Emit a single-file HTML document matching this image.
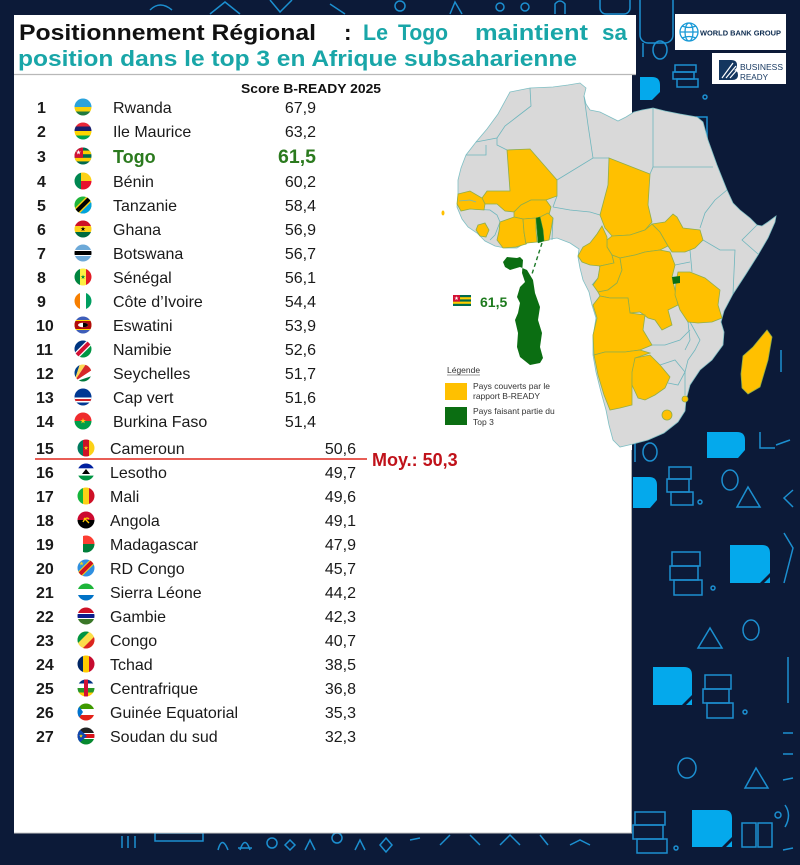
<!DOCTYPE html>
<html><head><meta charset="utf-8"><style>
html,body{margin:0;padding:0;background:#0c1a38;}
svg{display:block;}
text{font-family:"Liberation Sans",sans-serif;}
</style></head><body>
<svg width="800" height="865" viewBox="0 0 800 865" xmlns="http://www.w3.org/2000/svg">
<defs>
<clipPath id="fc" clipPathUnits="userSpaceOnUse"><circle cx="0" cy="0" r="8.5"/></clipPath>
<path id="st" d="M0,-1 L0.2245,-0.309 L0.951,-0.309 L0.363,0.118 L0.588,0.809 L0,0.382 L-0.588,0.809 L-0.363,0.118 L-0.951,-0.309 L-0.2245,-0.309Z"/>
</defs>
<rect width="800" height="865" fill="#0c1a38"/>
<g fill="none" stroke="#1c8fd0" stroke-width="1.5">
<path d="M150,10 Q160,0 172,10"/><path d="M210,14 L225,2 L240,14"/><path d="M270,0 L280,12 L292,0"/><path d="M330,4 L345,14"/><circle cx="400" cy="6" r="5"/><path d="M450,14 L455,2 L462,14"/><circle cx="500" cy="7" r="4"/><circle cx="525" cy="7" r="4"/><path d="M555,14 V4 Q560,-2 565,4 V14"/><rect x="600" y="-6" width="30" height="20" rx="6"/>
<rect x="640" y="-10" width="33" height="53" rx="8"/><line x1="643" y1="43" x2="643" y2="57"/><ellipse cx="660" cy="50" rx="7" ry="9"/>
<rect x="675" y="65" width="21" height="7"/><rect x="673" y="72" width="21" height="7"/><rect x="677" y="79" width="21" height="8"/><circle cx="705" cy="97" r="2"/>
<rect x="697" y="117" width="10" height="33"/>
<line x1="781" y1="350" x2="781" y2="372"/>
<rect x="669" y="467" width="22" height="12"/><rect x="667" y="479" width="22" height="13"/><rect x="671" y="492" width="22" height="13"/><circle cx="700" cy="502" r="2"/>
<ellipse cx="650" cy="452" rx="7" ry="9"/><line x1="635" y1="443" x2="635" y2="462"/>
<ellipse cx="730" cy="480" rx="8" ry="10"/>
<polygon points="748,487 737,507 760,507"/>
<path d="M760,432 V448 H775 M776,445 L790,440"/>
<path d="M793,490 L784,498 L793,507"/>
<rect x="672" y="552" width="28" height="14"/><rect x="670" y="566" width="28" height="14"/><rect x="674" y="580" width="28" height="15"/><circle cx="713" cy="588" r="2"/>
<path d="M784,533 L793,548 L784,583"/>
<polygon points="710,628 698,648 722,648"/><ellipse cx="751" cy="630" rx="8" ry="10"/>
<rect x="705" y="675" width="26" height="14"/><rect x="703" y="689" width="26" height="14"/><rect x="707" y="703" width="26" height="15"/><circle cx="745" cy="712" r="2"/>
<line x1="788" y1="657" x2="788" y2="703"/><line x1="783" y1="733" x2="793" y2="733"/><line x1="783" y1="754" x2="793" y2="754"/><line x1="783" y1="780" x2="793" y2="778"/>
<ellipse cx="687" cy="768" rx="9" ry="10"/><polygon points="756,768 745,788 768,788"/>
<rect x="635" y="812" width="30" height="13"/><rect x="633" y="825" width="30" height="14"/><rect x="637" y="839" width="30" height="14"/><circle cx="676" cy="848" r="2"/>
<rect x="742" y="823" width="14" height="24"/><rect x="758" y="823" width="14" height="24"/><circle cx="778" cy="815" r="3"/><path d="M785,805 Q792,815 785,827"/><line x1="783" y1="850" x2="793" y2="848"/>
<path d="M122,848 V836 M128,848 V836 M135,848 V836"/><rect x="155" y="833" width="48" height="8"/><path d="M218,850 Q222,835 228,850"/><path d="M240,850 Q245,835 250,850 M238,848 H252"/><circle cx="272" cy="843" r="5"/><path d="M290,840 L295,845 L290,850 L285,845Z"/><path d="M305,850 L310,840 L315,850"/><circle cx="337" cy="838" r="5"/><path d="M355,850 L360,840 L365,850"/><path d="M380,845 L386,838 L392,845 L386,852Z"/>
<path d="M410,840 L420,838 M440,845 L450,835 M470,835 L480,845 M500,845 L510,835 L520,845 M540,835 L548,845 M570,845 L580,840 L590,845"/>
</g>
<g fill="#04a9ec">
<path d="M640,77 H652 Q660,77 660,85 V92 L652,100 H640 Z"/>
<path d="M707,432 H737 Q745,432 745,440 V450 L738,458 H707 Z"/>
<path d="M633,477 H649 Q657,477 657,485 V500 L650,508 H633 Z"/>
<path d="M730,545 H762 Q770,545 770,553 V573 L760,583 H730 Z"/><path d="M764,583 L770,577 V583Z"/>
<path d="M653,667 H684 Q692,667 692,675 V695 L682,705 H653 Z"/><path d="M686,705 L692,699 V705Z"/>
<path d="M692,810 H724 Q732,810 732,818 V837 L722,847 H692 Z"/><path d="M726,847 L732,841 V847Z"/>
</g>
<rect x="675" y="14" width="111" height="36" fill="#fff"/>
<g fill="none" stroke="#1a9ad6" stroke-width="1.3"><circle cx="689" cy="32" r="9"/><ellipse cx="689" cy="32" rx="4" ry="9"/><line x1="680" y1="32" x2="698" y2="32"/><path d="M682,26 Q689,29 696,26 M682,38 Q689,35 696,38"/></g>
<text x="700" y="35.5" font-size="7.6" font-weight="bold" fill="#0b2a4e" textLength="81" lengthAdjust="spacingAndGlyphs">WORLD BANK GROUP</text>
<rect x="712" y="53" width="74" height="31" fill="#fff"/>
<path d="M719,60 H731 Q737,60 737,65 Q737,69 734,70 Q738,71 738,75 Q738,80 732,80 H719 Z" fill="#14365f"/>
<path d="M722,78 L733,63 M726,78 L736,66 M730,78 L737,70" stroke="#fff" stroke-width="1.2"/>
<text x="740" y="70" font-size="8" fill="#14365f" textLength="43" lengthAdjust="spacingAndGlyphs">BUSINESS</text>
<text x="740" y="80" font-size="8" fill="#14365f" textLength="28" lengthAdjust="spacingAndGlyphs">READY</text>
<rect x="14" y="15" width="622" height="59" fill="#fff"/>
<rect x="14" y="74" width="618" height="759" fill="#fff"/>
<line x1="14" y1="74.5" x2="636" y2="74.5" stroke="#b8b8b8" stroke-width="1.2"/>
<line x1="631.5" y1="450" x2="631.5" y2="833" stroke="#b0b0b0" stroke-width="1"/>
<line x1="14" y1="833" x2="632" y2="833" stroke="#c8c8c8" stroke-width="1"/>
<g font-size="22.5" font-weight="bold">
<text x="19" y="40" fill="#111" textLength="297" lengthAdjust="spacingAndGlyphs">Positionnement Régional</text>
<text x="344" y="40" fill="#111">:</text>
<g fill="#19a6a8">
<text x="363" y="40" textLength="25" lengthAdjust="spacingAndGlyphs">Le</text>
<text x="398" y="40" textLength="50" lengthAdjust="spacingAndGlyphs">Togo</text>
<text x="475" y="40" textLength="113" lengthAdjust="spacingAndGlyphs">maintient</text>
<text x="602" y="40" textLength="25" lengthAdjust="spacingAndGlyphs">sa</text>
<text x="18" y="66" textLength="559" lengthAdjust="spacingAndGlyphs">position dans le top 3 en Afrique subsaharienne</text>
</g>
</g>
<text x="241" y="93" font-size="13" font-weight="bold" fill="#111" textLength="140" lengthAdjust="spacingAndGlyphs">Score B-READY 2025</text>

<!-- Map -->
<path d="M510,92 L530,88 L553,87 L568,85 L580,83 L586,88 L584,96 L586,104 L590,110 L600,112 L608,116 L618,121 L626,117 L634,112 L642,110 L653,108 L665,111 L680,114 L697,117 L703,122 L708,140 L717,165 L727,190 L733,203 L740,210 L750,218 L757,225 L762,226 L768,222 L776,216 L775,222 L768,238 L758,255 L746,274 L733,294 L724,311 L721,322 L724,332 L723,345 L712,360 L700,370 L690,385 L686,400 L685,411 L678,422 L664,433 L648,440 L633,444 L620,447 L613,440 L609,425 L606,410 L601,392 L596,372 L593,355 L593,337 L596,318 L592,305 L589,292 L583,280 L580,268 L578,257 L579,249 L570,243 L557,238 L545,240 L535,242 L525,243 L517,248 L505,248 L495,246 L485,241 L477,233 L468,227 L462,219 L457,207 L458,195 L458,180 L461,168 L466,155 L476,142 L487,129 L498,114 Z" fill="#d9d9d9" stroke="#7fbfc4" stroke-width="0.8"/>
<g fill="none" stroke="#6fb6bd" stroke-width="0.8">
<path d="M530,88 L531,106 L518,116 L505,126 L497,138"/>
<path d="M476,142 L497,138 L497,145 L507,150"/><path d="M466,155 L486,155 L486,145"/>
<path d="M584,96 L588,125 L593,158"/><path d="M557,180 L593,158 L609,158"/>
<path d="M653,108 L653,167 L650,174"/><path d="M653,167 L713,167"/>
<path d="M727,190 L715,200 L705,213 L700,228"/><path d="M757,225 L742,240 L758,254"/><path d="M703,240 L720,250 L735,250 L733,294"/><path d="M690,250 L692,272"/><path d="M675,265 L690,262"/>
<path d="M553,207 L570,210 L590,212 L600,215"/><path d="M553,218 L552,240"/><path d="M557,196 L553,207"/>
<path d="M470,209 L490,210 L497,215 L500,222 L495,235 L490,240"/>
<path d="M583,262 L598,262 L600,268 L598,278 L592,285"/>
<path d="M652,345 L665,345 L680,340 L690,330"/><path d="M660,365 L675,360 L685,372 L678,385 L668,383"/><path d="M690,322 L700,340 L695,350 L688,360 L685,372 L685,395"/><path d="M688,322 L690,340 L685,350"/>
</g>
<g stroke="#8fae4a" stroke-width="0.8" fill="#ffc000">
<polygon points="507,150 530,149 557,180 557,196 546,200 531,200 521,205 514,212 505,211 497,204 485,204 482,198 487,191 510,191"/>
<polygon points="458,194 470,191 482,198 485,204 484,210 470,209 461,211 457,204"/>
<polygon points="514,212 521,205 531,200 546,200 551,207 549,215 536,218 523,219 514,217"/>
<polygon points="500,222 514,217 523,219 524,232 526,244 516,247 503,248 497,240 499,231"/>
<polygon points="523,219 536,218 536,230 537,242 527,243 526,244 524,232"/>
<polygon points="540,217 548,213 553,218 551,230 549,240 544,241 543,230"/>
<polygon points="478,225 485,223 489,230 486,237 480,236 476,230"/>
<polygon points="609,158 650,174 648,205 652,222 645,230 630,235 612,236 605,228 600,215 604,200 608,185"/>
<polygon points="612,236 630,235 645,230 652,224 660,232 668,246 660,250 645,252 635,255 620,258 612,255 607,247 607,240"/>
<polygon points="652,224 665,222 673,214 677,217 683,228 700,230 703,240 695,248 685,252 672,252 668,246 660,232"/>
<polygon points="602,226 607,237 607,247 612,255 614,263 600,266 590,265 582,262 578,256 583,247 590,243 597,234"/>
<polygon points="612,255 620,258 622,270 617,283 608,290 598,292 593,285 598,278 600,266 614,263"/>
<polygon points="620,258 635,255 645,252 660,250 670,252 675,265 672,277 675,290 678,305 668,310 672,325 662,330 655,320 648,318 640,312 630,313 628,298 610,298 600,296 598,292 608,290 617,283 622,270"/>
<polygon points="600,296 610,298 628,298 630,313 645,315 643,330 652,345 640,350 625,352 605,352 594,355 593,335 597,318 593,305"/>
<polygon points="594,355 605,352 625,352 640,350 650,353 635,358 632,380 632,405 620,408 610,410 604,395 598,375"/>
<polygon points="635,358 650,355 660,365 670,377 665,388 655,395 645,400 638,398 632,385 632,372"/>
<polygon points="678,272 690,272 705,278 720,290 718,305 722,318 712,322 698,323 688,322 680,310 675,295 676,282"/>
<circle cx="667" cy="415" r="5"/><circle cx="685" cy="399" r="3"/>
<path d="M767,330 L772,337 L768,360 L760,387 L748,394 L742,388 L741,374 L743,356 L753,347 L762,336 Z"/>
</g>
<ellipse cx="443" cy="213" rx="1.5" ry="2.5" fill="#ffc000"/>
<polyline points="459,201 470,200 476,202" fill="none" stroke="#6fb6bd" stroke-width="0.8"/>
<polygon points="536,218 540,217 543,230 544,241 538,243 537,230" fill="#0b6e12" stroke="#2e8a2e" stroke-width="0.5"/>
<polygon points="672,277 680,276 680,283 673,284" fill="#0b6e12"/>
<line x1="542" y1="243" x2="532" y2="274" stroke="#1c7a28" stroke-width="1.4" stroke-dasharray="4,3"/>
<path d="M503,262 L507,257 L517,258 L520,257 L523,260 L522,273 L525,282 L520,287 L517,297 L520,303 L518,313 L515,320 L518,333 L517,347 L520,357 L530,365 L540,363 L543,358 L540,347 L542,333 L538,320 L540,307 L535,293 L533,280 L527,270 L520,267 L510,270 L505,267 Z" fill="#0b6e12"/>
<g transform="translate(453,295)">
<rect width="18" height="11" fill="#006a4e"/><rect y="2.2" width="18" height="2.2" fill="#ffce00"/><rect y="6.6" width="18" height="2.2" fill="#ffce00"/><rect width="7" height="6.6" fill="#d21034"/><use href="#st" transform="translate(3.5,3.3) scale(2.2)" fill="#fff"/>
</g>
<text x="480" y="307" font-size="14" font-weight="bold" fill="#1d7a1d">61,5</text>
<text x="447" y="373" font-size="8.5" fill="#333">Légende</text>
<line x1="447" y1="375" x2="480" y2="375" stroke="#333" stroke-width="0.6"/>
<rect x="445" y="383" width="22" height="17" fill="#ffc000"/>
<text x="473" y="389" font-size="8.5" fill="#333">Pays couverts par le</text>
<text x="473" y="399" font-size="8.5" fill="#333">rapport B-READY</text>
<rect x="445" y="407" width="22" height="18" fill="#0b6e12"/>
<text x="473" y="414" font-size="8.5" fill="#333">Pays faisant partie du</text>
<text x="473" y="425" font-size="8.5" fill="#333">Top 3</text>

<!-- List -->
<g font-size="16" fill="#1a1a1a">
<g font-weight="bold">
<text x="37" y="113">1</text><text x="37" y="137">2</text><text x="37" y="162">3</text><text x="37" y="187">4</text><text x="37" y="211">5</text><text x="37" y="235">6</text><text x="37" y="259">7</text><text x="37" y="283">8</text><text x="37" y="307">9</text><text x="36" y="331">10</text><text x="36" y="355">11</text><text x="36" y="379">12</text><text x="36" y="403">13</text><text x="36" y="427">14</text>
<text x="36" y="454">15</text><text x="36" y="478">16</text><text x="36" y="502">17</text><text x="36" y="526">18</text><text x="36" y="550">19</text><text x="36" y="574">20</text><text x="36" y="598">21</text><text x="36" y="622">22</text><text x="36" y="646">23</text><text x="36" y="670">24</text><text x="36" y="694">25</text><text x="36" y="718">26</text><text x="36" y="742">27</text>
</g>
<text x="113" y="113">Rwanda</text><text x="113" y="137">Ile Maurice</text>
<text x="113" y="187">Bénin</text><text x="113" y="211">Tanzanie</text><text x="113" y="235">Ghana</text><text x="113" y="259">Botswana</text><text x="113" y="283">Sénégal</text><text x="113" y="307">Côte d’Ivoire</text><text x="113" y="331">Eswatini</text><text x="113" y="355">Namibie</text><text x="113" y="379">Seychelles</text><text x="113" y="403">Cap vert</text><text x="113" y="427">Burkina Faso</text>
<text x="110" y="454">Cameroun</text><text x="110" y="478">Lesotho</text><text x="110" y="502">Mali</text><text x="110" y="526">Angola</text><text x="110" y="550">Madagascar</text><text x="110" y="574">RD Congo</text><text x="110" y="598">Sierra Léone</text><text x="110" y="622">Gambie</text><text x="110" y="646">Congo</text><text x="110" y="670">Tchad</text><text x="110" y="694">Centrafrique</text><text x="110" y="718">Guinée Equatorial</text><text x="110" y="742">Soudan du sud</text>
<g text-anchor="end">
<text x="316" y="113">67,9</text><text x="316" y="137">63,2</text><text x="316" y="187">60,2</text><text x="316" y="211">58,4</text><text x="316" y="235">56,9</text><text x="316" y="259">56,7</text><text x="316" y="283">56,1</text><text x="316" y="307">54,4</text><text x="316" y="331">53,9</text><text x="316" y="355">52,6</text><text x="316" y="379">51,7</text><text x="316" y="403">51,6</text><text x="316" y="427">51,4</text>
<text x="356" y="454">50,6</text><text x="356" y="478">49,7</text><text x="356" y="502">49,6</text><text x="356" y="526">49,1</text><text x="356" y="550">47,9</text><text x="356" y="574">45,7</text><text x="356" y="598">44,2</text><text x="356" y="622">42,3</text><text x="356" y="646">40,7</text><text x="356" y="670">38,5</text><text x="356" y="694">36,8</text><text x="356" y="718">35,3</text><text x="356" y="742">32,3</text>
</g>
</g>
<text x="113" y="163" font-size="18" font-weight="bold" fill="#2b7a1e">Togo</text>
<text x="316" y="163" font-size="19.5" font-weight="bold" fill="#2b7a1e" text-anchor="end">61,5</text>
<line x1="35" y1="459" x2="367" y2="459" stroke="#e0281e" stroke-width="1.6"/>
<text x="372" y="466" font-size="18" font-weight="bold" fill="#c0121a">Moy.: 50,3</text>

<!-- Flags -->
<g transform="translate(83,107)"><g clip-path="url(#fc)"><rect x="-9" y="-9" width="18" height="9" fill="#2aa3dc"/><rect x="-9" y="0" width="18" height="4.5" fill="#f5d10a"/><rect x="-9" y="4.5" width="18" height="4.5" fill="#1f7a3f"/></g></g>
<g transform="translate(83,131)"><g clip-path="url(#fc)"><rect x="-9" y="-9" width="18" height="4.5" fill="#ea2839"/><rect x="-9" y="-4.5" width="18" height="4.5" fill="#1a206d"/><rect x="-9" y="0" width="18" height="4.5" fill="#ffd500"/><rect x="-9" y="4.5" width="18" height="4.5" fill="#00a551"/></g></g>
<g transform="translate(83,156)"><g clip-path="url(#fc)"><rect x="-9" y="-9" width="18" height="18" fill="#006a4e"/><rect x="-9" y="-5.4" width="18" height="3.6" fill="#ffce00"/><rect x="-9" y="1.8" width="18" height="3.6" fill="#ffce00"/><rect x="-9" y="-9" width="9" height="10.8" fill="#d21034"/><use href="#st" transform="translate(-4.5,-3.6) scale(2.6)" fill="#fff"/></g></g>
<g transform="translate(83,181)"><g clip-path="url(#fc)"><rect x="-9" y="-9" width="7" height="18" fill="#008751"/><rect x="-2" y="-9" width="11" height="9" fill="#fcd116"/><rect x="-2" y="0" width="11" height="9" fill="#e8112d"/></g></g>
<g transform="translate(83,205)"><g clip-path="url(#fc)"><rect x="-9" y="-9" width="18" height="18" fill="#1eb53a"/><polygon points="9,-9 9,9 -9,9" fill="#00a3dd"/><line x1="-10" y1="10" x2="10" y2="-10" stroke="#fcd116" stroke-width="7"/><line x1="-10" y1="10" x2="10" y2="-10" stroke="#000" stroke-width="4.2"/></g></g>
<g transform="translate(83,229)"><g clip-path="url(#fc)"><rect x="-9" y="-9" width="18" height="6" fill="#ce1126"/><rect x="-9" y="-3" width="18" height="6" fill="#fcd116"/><rect x="-9" y="3" width="18" height="6" fill="#006b3f"/><use href="#st" transform="scale(2.6)" fill="#000"/></g></g>
<g transform="translate(83,253)"><g clip-path="url(#fc)"><rect x="-9" y="-9" width="18" height="18" fill="#6da9d8"/><rect x="-9" y="-3" width="18" height="6" fill="#fff"/><rect x="-9" y="-2" width="18" height="4" fill="#000"/></g></g>
<g transform="translate(83,277)"><g clip-path="url(#fc)"><rect x="-9" y="-9" width="6" height="18" fill="#00853f"/><rect x="-3" y="-9" width="6" height="18" fill="#fdef42"/><rect x="3" y="-9" width="6" height="18" fill="#e31b23"/><use href="#st" transform="scale(2.4)" fill="#00853f"/></g></g>
<g transform="translate(83,301)"><g clip-path="url(#fc)"><rect x="-9" y="-9" width="6" height="18" fill="#f77f00"/><rect x="-3" y="-9" width="6" height="18" fill="#fff"/><rect x="3" y="-9" width="6" height="18" fill="#009e60"/></g></g>
<g transform="translate(83,325)"><g clip-path="url(#fc)"><rect x="-9" y="-9" width="18" height="18" fill="#3e5eb9"/><rect x="-9" y="-5" width="18" height="10" fill="#ffd900"/><rect x="-9" y="-4" width="18" height="8" fill="#b10c0c"/><ellipse cx="0" cy="0" rx="5" ry="2.3" fill="#fff"/><path d="M0,-2.3 A5,2.3 0 0 1 0,2.3 Z" fill="#000"/></g></g>
<g transform="translate(83,349)"><g clip-path="url(#fc)"><polygon points="-9,-9 9,-9 -9,9" fill="#003580"/><polygon points="9,-9 9,9 -9,9" fill="#009543"/><line x1="-10" y1="10" x2="10" y2="-10" stroke="#fff" stroke-width="6.5"/><line x1="-10" y1="10" x2="10" y2="-10" stroke="#d21034" stroke-width="4"/></g></g>
<g transform="translate(83,373)"><g clip-path="url(#fc)"><polygon points="-9,9 -9,-9 -3,-9" fill="#003f87"/><polygon points="-9,9 -3,-9 3,-9" fill="#fcd856"/><polygon points="-9,9 3,-9 9,-9 9,-3" fill="#d62828"/><polygon points="-9,9 9,-3 9,3" fill="#fff"/><polygon points="-9,9 9,3 9,9" fill="#007a3d"/></g></g>
<g transform="translate(83,397)"><g clip-path="url(#fc)"><rect x="-9" y="-9" width="18" height="18" fill="#003893"/><rect x="-9" y="0.5" width="18" height="5" fill="#fff"/><rect x="-9" y="2" width="18" height="2" fill="#cf2027"/></g></g>
<g transform="translate(83,421)"><g clip-path="url(#fc)"><rect x="-9" y="-9" width="18" height="9" fill="#ef2b2d"/><rect x="-9" y="0" width="18" height="9" fill="#009e49"/><use href="#st" transform="scale(3)" fill="#fcd116"/></g></g>
<g transform="translate(86,448)"><g clip-path="url(#fc)"><rect x="-9" y="-9" width="6" height="18" fill="#007a5e"/><rect x="-3" y="-9" width="6" height="18" fill="#ce1126"/><rect x="3" y="-9" width="6" height="18" fill="#fcd116"/><use href="#st" transform="scale(2.4)" fill="#fcd116"/></g></g>
<g transform="translate(86,472)"><g clip-path="url(#fc)"><rect x="-9" y="-9" width="18" height="5.4" fill="#00209f"/><rect x="-9" y="-3.6" width="18" height="7.2" fill="#fff"/><rect x="-9" y="3.6" width="18" height="5.4" fill="#009543"/><path d="M-4,2 L0,-3 L4,2 Z" fill="#000"/></g></g>
<g transform="translate(86,496)"><g clip-path="url(#fc)"><rect x="-9" y="-9" width="6" height="18" fill="#14b53a"/><rect x="-3" y="-9" width="6" height="18" fill="#fcd116"/><rect x="3" y="-9" width="6" height="18" fill="#ce1126"/></g></g>
<g transform="translate(86,520)"><g clip-path="url(#fc)"><rect x="-9" y="-9" width="18" height="9" fill="#cc092f"/><rect x="-9" y="0" width="18" height="9" fill="#000"/><path d="M-3,2 Q0,-4 3,-1 M-2,-2 L3,3" stroke="#ffcb00" stroke-width="1.3" fill="none"/></g></g>
<g transform="translate(86,544)"><g clip-path="url(#fc)"><rect x="-9" y="-9" width="6" height="18" fill="#fff"/><rect x="-3" y="-9" width="12" height="9" fill="#fc3d32"/><rect x="-3" y="0" width="12" height="9" fill="#007e3a"/></g></g>
<g transform="translate(86,568)"><g clip-path="url(#fc)"><rect x="-9" y="-9" width="18" height="18" fill="#2f8fe0"/><line x1="-10" y1="10" x2="10" y2="-10" stroke="#f7d618" stroke-width="6"/><line x1="-10" y1="10" x2="10" y2="-10" stroke="#ce1021" stroke-width="4"/><use href="#st" transform="translate(-4.5,-4.5) scale(2.4)" fill="#f7d618"/></g></g>
<g transform="translate(86,592)"><g clip-path="url(#fc)"><rect x="-9" y="-9" width="18" height="6" fill="#1eb53a"/><rect x="-9" y="-3" width="18" height="6" fill="#fff"/><rect x="-9" y="3" width="18" height="6" fill="#0072c6"/></g></g>
<g transform="translate(86,616)"><g clip-path="url(#fc)"><rect x="-9" y="-9" width="18" height="6" fill="#ce1126"/><rect x="-9" y="-3" width="18" height="6" fill="#fff"/><rect x="-9" y="-2" width="18" height="4" fill="#0c1c8c"/><rect x="-9" y="3" width="18" height="6" fill="#3a7728"/></g></g>
<g transform="translate(86,640)"><g clip-path="url(#fc)"><rect x="-9" y="-9" width="18" height="18" fill="#fbde4a"/><polygon points="-9,-9 4,-9 -9,4" fill="#009543"/><polygon points="9,-4 9,9 -4,9" fill="#dc241f"/></g></g>
<g transform="translate(86,664)"><g clip-path="url(#fc)"><rect x="-9" y="-9" width="6" height="18" fill="#002664"/><rect x="-3" y="-9" width="6" height="18" fill="#fecb00"/><rect x="3" y="-9" width="6" height="18" fill="#c60c30"/></g></g>
<g transform="translate(86,688)"><g clip-path="url(#fc)"><rect x="-9" y="-9" width="18" height="4.5" fill="#003082"/><rect x="-9" y="-4.5" width="18" height="4.5" fill="#fff"/><rect x="-9" y="0" width="18" height="4.5" fill="#289728"/><rect x="-9" y="4.5" width="18" height="4.5" fill="#ffce00"/><rect x="-2" y="-9" width="4" height="18" fill="#d21034"/></g></g>
<g transform="translate(86,712)"><g clip-path="url(#fc)"><rect x="-9" y="-9" width="18" height="6" fill="#3e9a00"/><rect x="-9" y="-3" width="18" height="6" fill="#fff"/><rect x="-9" y="3" width="18" height="6" fill="#e32118"/><polygon points="-9,-9 -3,0 -9,9" fill="#0073ce"/></g></g>
<g transform="translate(86,736)"><g clip-path="url(#fc)"><rect x="-9" y="-9" width="18" height="6" fill="#222"/><rect x="-9" y="-3" width="18" height="6" fill="#fff"/><rect x="-9" y="-2" width="18" height="4" fill="#da121a"/><rect x="-9" y="3" width="18" height="6" fill="#078930"/><polygon points="-9,-9 1,0 -9,9" fill="#0f47af"/><use href="#st" transform="translate(-5,0) scale(2)" fill="#fcdd09"/></g></g>
</svg>
</body></html>
